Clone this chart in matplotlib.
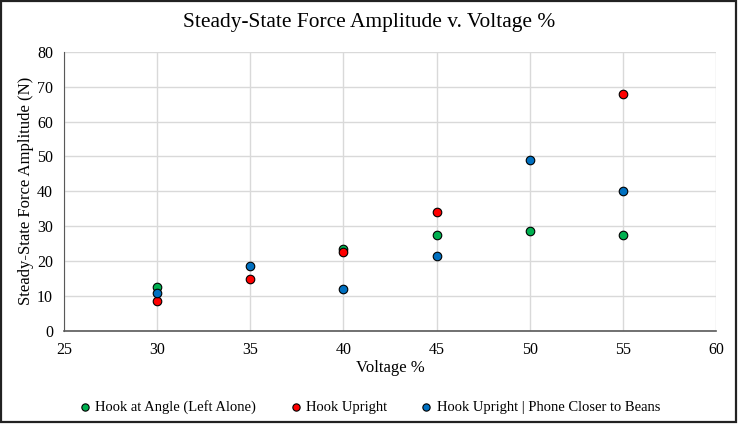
import matplotlib
matplotlib.use("Agg")
import matplotlib.pyplot as plt
from matplotlib.patches import Rectangle

plt.rcParams['font.family'] = ['Liberation Serif', 'DejaVu Serif']

green_x = [30, 40, 45, 50, 55]
green_y = [12.5, 23.5, 27.5, 28.5, 27.5]
red_x = [30, 35, 40, 45, 55]
red_y = [8.5, 15, 22.5, 34, 68]
blue_x = [30, 35, 40, 45, 50, 55]
blue_y = [11, 18.5, 12, 21.5, 49, 40]

labels = ["Hook at Angle (Left Alone)", "Hook Upright", "Hook Upright | Phone Closer to Beans"]
colors = ["#00B050", "#FF0000", "#0070C0"]

fig = plt.figure(figsize=(7.38, 4.24), dpi=100)
ax = fig.add_axes([64/738, 1-331/424, (716-64)/738, (331-51.7)/424])

for xs, ys, lab, c in zip([green_x, red_x, blue_x], [green_y, red_y, blue_y], labels, colors):
    ax.scatter(xs, ys, s=38, color=c, edgecolors='black', linewidths=0.8, label=lab, zorder=3)

ax.set_xlim(25, 60)
ax.set_ylim(0, 80)
ax.set_xticks(range(25, 61, 5))
ax.set_yticks(range(0, 81, 10))
ax.grid(True, color='#d9d9d9', linewidth=1)
ax.set_axisbelow(True)
for s in ['top', 'right']:
    ax.spines[s].set_visible(False)
ax.spines['left'].set_color('#595959')
ax.spines['bottom'].set_color('#595959')
ax.spines['bottom'].set_linewidth(1.2)
ax.tick_params(length=0, labelsize=11.5)
ax.tick_params(axis='x', pad=8)
ax.tick_params(axis='y', pad=8)
ax.set_xlabel("Voltage %", fontsize=12)
ax.set_ylabel("Steady-State Force Amplitude (N)", fontsize=12)
ax.xaxis.set_label_coords(0.5, -(368-331)/(331-51.7), transform=ax.transAxes)
ax.yaxis.set_label_coords(-(64-26)/(716-64), 0.5, transform=ax.transAxes)
ax.xaxis.label.set_va('center')
ax.yaxis.label.set_va('center')

fig.text(0.5, 1-23/424, "Steady-State Force Amplitude v. Voltage %", ha='center', va='center', fontsize=15.4)

fig.legend(loc='center', bbox_to_anchor=(0.5, 1-407/424), ncol=3, frameon=False,
           fontsize=10.5, handletextpad=0.2, handlelength=1.0, columnspacing=2.2, markerscale=0.85)

border = Rectangle((0.002, 0.004), 0.995, 0.993, transform=fig.transFigure, fill=False,
                   edgecolor='#222222', linewidth=1.6)
fig.patches.append(border)

fig.savefig("out.png", dpi=100)
